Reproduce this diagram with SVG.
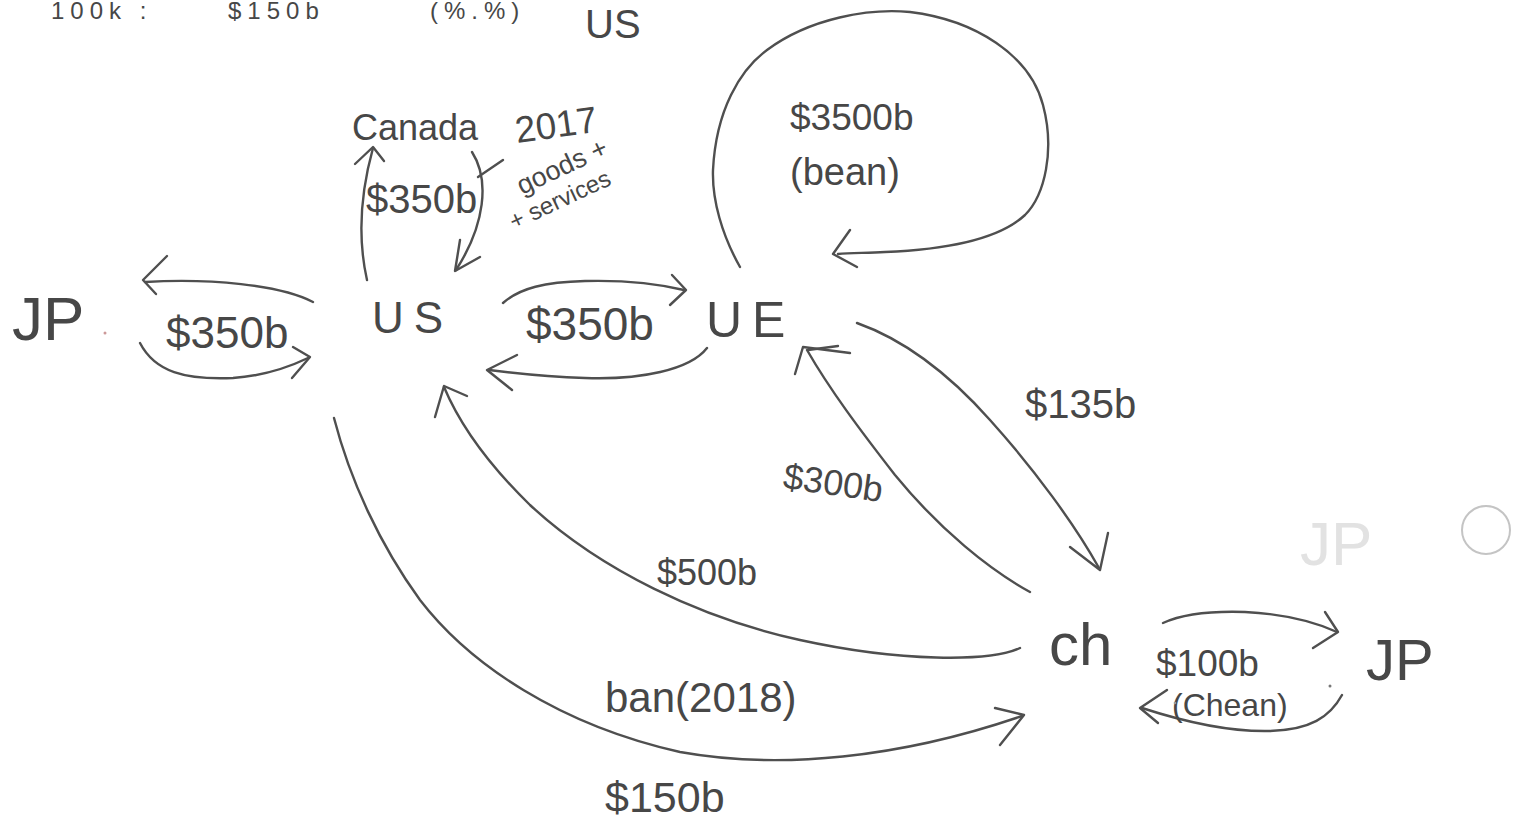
<svg xmlns="http://www.w3.org/2000/svg" width="1513" height="821" viewBox="0 0 1513 821">
<style>
.c{fill:none;stroke:#4f4f4f;stroke-width:2.4;stroke-linecap:round;stroke-linejoin:round}
.t{font-family:"Liberation Sans",Arial,sans-serif;fill:#474747}
.h{font-family:"Liberation Sans",Arial,sans-serif;fill:#474747;letter-spacing:6px}
.n{font-family:"Liberation Sans",Arial,sans-serif;fill:#474747;letter-spacing:10px}
.f{font-family:"Liberation Sans",Arial,sans-serif;fill:#e2e2e2}
</style>
<rect width="1513" height="821" fill="#ffffff"/>

<!-- faint bleed-through marks -->
<g id="faint">
<text class="f" x="1300" y="565" font-size="62">JP</text>
<circle cx="1486" cy="530" r="24" fill="none" stroke="#c4c4c4" stroke-width="2"/>
</g>

<!-- header (cut off at top in the reference) -->
<g id="header">
<text class="h" x="51" y="19" font-size="24">100k :</text>
<text class="h" x="228" y="19" font-size="24">$150b</text>
<text class="h" x="430" y="19" font-size="24">(%.%)</text>
<text class="t" x="585" y="38" font-size="40">US</text>
</g>

<g id="connectors">
<!-- US -> Canada -->
<path class="c" d="M367,280 C358,240 360,195 373,148"/>
<polyline class="c" points="355,164 373,147 384,161"/>
<!-- Canada -> US -->
<path class="c" d="M472,152 C490,180 485,225 456,270"/>
<polyline class="c" points="460,240 455,271 480,257"/>
<path class="c" d="M478,177 L503,160"/>
<!-- US -> JP (top) -->
<path class="c" d="M313,302 C280,285 210,278 145,282"/>
<polyline class="c" points="167,256 143,280 156,294"/>
<!-- JP -> US (bottom) -->
<path class="c" d="M140,343 C155,372 185,380 233,378 C262,376 285,369 308,358"/>
<polyline class="c" points="293,347 310,357 292,378"/>
<!-- US -> UE (top) -->
<path class="c" d="M503,303 C520,288 545,282 585,281 C625,280 655,283 684,290"/>
<polyline class="c" points="672,275 686,290 670,305"/>
<!-- UE -> US (bottom) -->
<path class="c" d="M707,348 C690,370 640,380 585,378 C550,377 520,374 489,370"/>
<polyline class="c" points="517,355 487,370 512,390"/>
<!-- UE self loop -->
<path class="c" d="M740,267 C722,235 712,200 713,170 C716,110 740,70 767,50 C810,18 870,8 910,12 C975,20 1030,55 1043,105 C1055,150 1045,195 1025,215 C995,243 935,250 885,252 C865,253 850,253 838,254"/>
<polyline class="c" points="850,230 833,254 857,267"/>
<!-- UE -> ch ($135b) -->
<path class="c" d="M857,323 C905,340 950,375 990,420 C1035,470 1075,525 1099,568"/>
<polyline class="c" points="1070,547 1100,570 1108,533"/>
<!-- ch -> UE ($300b) -->
<path class="c" d="M1030,592 C990,570 940,530 895,475 C860,430 830,390 807,350"/>
<polyline class="c" points="795,374 803,347 850,353"/>
<path class="c" d="M808,350 L838,346"/>
<!-- ch -> US ($500b) -->
<path class="c" d="M1020,648 C990,662 900,662 800,640 C700,618 600,570 530,505 C490,466 460,425 444,387"/>
<polyline class="c" points="435,417 444,386 467,396"/>
<!-- US -> ch ($150b, ban 2018) -->
<path class="c" d="M334,418 C350,480 380,545 420,600 C470,665 560,725 680,752 C780,770 900,758 1022,716"/>
<polyline class="c" points="995,708 1024,715 1000,745"/>
<!-- ch -> JP (top) -->
<path class="c" d="M1163,623 C1185,613 1215,611 1245,612 C1285,614 1315,622 1337,632"/>
<polyline class="c" points="1325,612 1338,632 1313,648"/>
<!-- JP -> ch (bottom) -->
<path class="c" d="M1342,695 C1330,717 1310,730 1270,731 C1230,732 1185,722 1142,708"/>
<polyline class="c" points="1167,690 1140,708 1158,723"/>
</g>

<g id="node-jp-left">
<text class="t" x="12" y="340" font-size="62">JP</text>
<circle cx="105" cy="333" r="1.5" fill="#c99"/>
</g>
<g id="node-us">
<text class="n" x="372" y="333" font-size="44">US</text>
</g>
<g id="node-canada">
<text class="t" x="352" y="140" font-size="36">Canada</text>
</g>
<g id="node-ue">
<text class="n" x="706" y="337" font-size="50">UE</text>
</g>
<g id="node-ch">
<text class="t" x="1049" y="665" font-size="60">ch</text>
</g>
<g id="node-jp-right">
<text class="t" x="1366" y="680" font-size="58">JP</text>
</g>

<g id="labels">
<text class="t" x="366" y="213" font-size="40">$350b</text>
<text class="t" transform="rotate(-8 517 143)" x="517" y="143" font-size="37">2017</text>
<text class="t" transform="rotate(-25 522 195)" x="522" y="195" font-size="27">goods +</text>
<text class="t" transform="rotate(-25 514 230)" x="514" y="230" font-size="24">+ services</text>
<text class="t" x="166" y="348" font-size="44">$350b</text>
<text class="t" x="526" y="340" font-size="46">$350b</text>
<text class="t" x="790" y="130" font-size="37">$3500b</text>
<text class="t" x="790" y="185" font-size="38">(bean)</text>
<text class="t" x="1025" y="418" font-size="40">$135b</text>
<text class="t" transform="rotate(8 782 488)" x="782" y="488" font-size="36">$300b</text>
<text class="t" x="657" y="585" font-size="36">$500b</text>
<text class="t" x="1156" y="676" font-size="37">$100b</text>
<text class="t" x="1172" y="716" font-size="32">(Chean)</text>
<circle cx="1330" cy="686" r="1.5" fill="#777"/>
<circle cx="1175" cy="703" r="1.3" fill="#999"/>
<text class="t" x="605" y="712" font-size="42">ban(2018)</text>
<text class="t" x="605" y="812" font-size="43">$150b</text>
</g>
</svg>
